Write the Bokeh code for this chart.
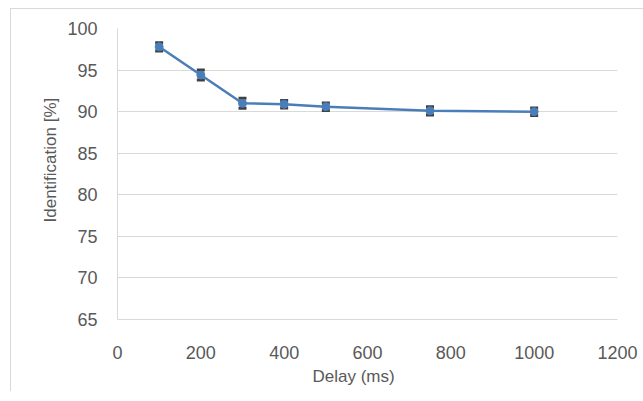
from bokeh.plotting import figure
from bokeh.models import ColumnDataSource, Whisker, Range1d, FixedTicker, TeeHead, Title
from bokeh.embed import file_html
from bokeh.resources import INLINE

delay_ms = [100, 200, 300, 400, 500, 750, 1000]
identification = [97.8, 94.4, 91.0, 90.9, 90.6, 90.1, 90.0]
error = [0.5, 0.6, 0.6, 0.45, 0.45, 0.5, 0.45]
x_ticks = [0, 200, 400, 600, 800, 1000, 1200]
y_ticks = [65, 70, 75, 80, 85, 90, 95, 100]
x_title = "Delay (ms)"
y_title = "Identification  [%]"

src = ColumnDataSource(dict(
    x=delay_ms, y=identification,
    lo=[v - e for v, e in zip(identification, error)],
    hi=[v + e for v, e in zip(identification, error)],
))

p = figure(frame_width=500, frame_height=291, output_backend="svg", toolbar_location=None,
           x_range=Range1d(0, 1200), y_range=Range1d(65, 100),
           min_border_left=106, min_border_top=19, min_border_right=26, min_border_bottom=72)
p.margin = (8, 0, 0, 10)
p.styles = {"border-top": "1px solid #d9d9d9", "border-left": "1px solid #d9d9d9"}
p.outline_line_color = None
p.background_fill_color = "white"
p.border_fill_color = "white"

p.xaxis.ticker = FixedTicker(ticks=x_ticks)
p.yaxis.ticker = FixedTicker(ticks=y_ticks)
p.xgrid.grid_line_color = None
p.ygrid.grid_line_color = "#d9d9d9"
p.ygrid.grid_line_width = 1

for ax in (p.xaxis, p.yaxis):
    ax.axis_line_color = "#d9d9d9"
    ax.major_tick_line_color = None
    ax.minor_tick_line_color = None
    ax.major_label_text_font = "Liberation Sans"
    ax.major_label_text_font_size = "18px"
    ax.major_label_text_color = "#595959"

p.xaxis.major_label_standoff = 20
p.yaxis.major_label_standoff = 14

# axis titles, placed like the original (centred on the whole chart area)
p.add_layout(Title(text=x_title, align="left", offset=195, text_font="Liberation Sans",
                   text_font_size="17px", text_color="#595959", text_font_style="normal",
                   standoff=7), "below")
p.add_layout(Title(text=y_title, align="left", offset=97, text_font="Liberation Sans",
                   text_font_size="17px", text_color="#595959", text_font_style="normal",
                   standoff=10), "left")

p.line("x", "y", source=src, line_color="#4a7ebb", line_width=2.5)
w = Whisker(source=src, base="x", lower="lo", upper="hi", line_color="#404040", line_width=2,
            lower_head=TeeHead(size=8, line_color="#404040", line_width=3),
            upper_head=TeeHead(size=8, line_color="#404040", line_width=3))
p.add_layout(w)
p.scatter("x", "y", source=src, size=8, fill_color="#4a7ebb", line_color="#4a7ebb")

open("out.html", "w").write(file_html(p, INLINE))
